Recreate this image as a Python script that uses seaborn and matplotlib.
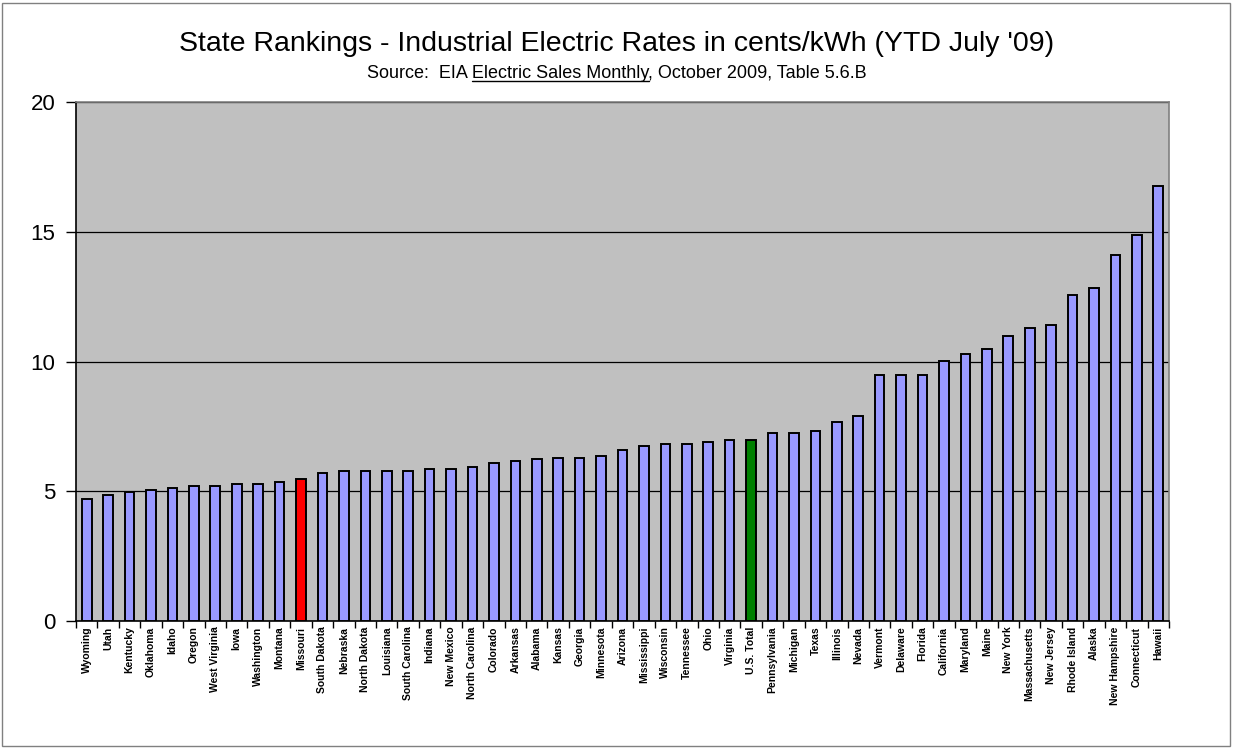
import matplotlib
matplotlib.use("Agg")
import matplotlib.pyplot as plt
from matplotlib.lines import Line2D
from matplotlib.patches import Rectangle
import pandas as pd
import seaborn as sns

sns.set_theme(style="white")
plt.rcParams['font.family'] = ['Liberation Sans', 'DejaVu Sans']
plt.rcParams['text.color'] = 'black'
plt.rcParams['xtick.color'] = 'black'
plt.rcParams['ytick.color'] = 'black'

# data (cents/kWh, YTD July 2009)
states = ['Wyoming', 'Utah', 'Kentucky', 'Oklahoma', 'Idaho', 'Oregon', 'West Virginia',
          'Iowa', 'Washington', 'Montana', 'Missouri', 'South Dakota', 'Nebraska',
          'North Dakota', 'Louisiana', 'South Carolina', 'Indiana', 'New Mexico',
          'North Carolina', 'Colorado', 'Arkansas', 'Alabama', 'Kansas', 'Georgia',
          'Minnesota', 'Arizona', 'Mississippi', 'Wisconsin', 'Tennessee', 'Ohio',
          'Virginia', 'U.S. Total', 'Pennsylvania', 'Michigan', 'Texas', 'Illinois',
          'Nevada', 'Vermont', 'Delaware', 'Florida', 'California', 'Maryland', 'Maine',
          'New York', 'Massachusetts', 'New Jersey', 'Rhode Island', 'Alaska',
          'New Hampshire', 'Connecticut', 'Hawaii']
rates = [4.72, 4.87, 4.97, 5.05, 5.13, 5.20, 5.20, 5.28, 5.28, 5.34, 5.46, 5.69, 5.79,
         5.79, 5.79, 5.79, 5.87, 5.87, 5.95, 6.09, 6.17, 6.23, 6.28, 6.28, 6.35, 6.58,
         6.76, 6.84, 6.84, 6.90, 6.98, 6.97, 7.25, 7.25, 7.31, 7.65, 7.89, 9.47, 9.47,
         9.47, 10.03, 10.28, 10.50, 10.97, 11.30, 11.42, 12.58, 12.85, 14.11, 14.86, 16.77]

highlight = {'Missouri': '#FF0000', 'U.S. Total': '#008000'}
bar_colors = [highlight.get(s, '#9999FF') for s in states]

df = pd.DataFrame({'State': states, 'Rate': rates})

fig = plt.figure(figsize=(12.33, 7.48), dpi=100)
ax = fig.add_axes([76/1233, 1-621/748, (1169-76)/1233, (621-102)/748])

sns.barplot(data=df, x='State', y='Rate', hue='State', palette=bar_colors,
            legend=False, width=0.45, edgecolor='black', linewidth=1.4,
            saturation=1, ax=ax, zorder=3)

ax.set_facecolor('#C0C0C0')
ax.set_ylim(0, 20)
ax.set_xlim(-0.5, len(states) - 0.5)
ax.set_yticks([0, 5, 10, 15, 20])
ax.yaxis.grid(True, color='black', linewidth=0.9)
ax.set_axisbelow(True)
ax.set_xlabel('')
ax.set_ylabel('')

ax.tick_params(axis='y', labelsize=16, length=7, width=1, direction='out',
               left=True, color='black', pad=8)
ax.tick_params(axis='x', which='major', length=0, labelsize=7.5, labelrotation=90, pad=4)
ax.set_xticks([i - 0.5 for i in range(len(states) + 1)], minor=True)
ax.tick_params(axis='x', which='minor', length=5, width=1, color='black',
               direction='out', bottom=True)
for lab in ax.get_xticklabels():
    lab.set_fontweight('bold')

for side in ['left', 'bottom']:
    ax.spines[side].set_color('black')
    ax.spines[side].set_linewidth(1.2)
for side in ['top', 'right']:
    ax.spines[side].set_color('#808080')
    ax.spines[side].set_linewidth(1.2)

# titles
fig.text(0.5, 1 - 44/748, "State Rankings - Industrial Electric Rates in cents/kWh (YTD July '09)",
         ha='center', va='center', fontsize=20.5)
sub = fig.text(0.5, 1 - 73/748, "Source:  EIA Electric Sales Monthly, October 2009, Table 5.6.B",
               ha='center', va='center', fontsize=13)

# underline "Electric Sales Monthly"
fig.canvas.draw()
r = fig.canvas.get_renderer()
full = sub.get_window_extent(r)
pre = fig.text(0, 0, "Source:  EIA ", fontsize=13)
mid = fig.text(0, 0, "Electric Sales Monthly", fontsize=13)
w_pre = pre.get_window_extent(r).width
w_mid = mid.get_window_extent(r).width
pre.remove()
mid.remove()
x0 = (full.x0 + w_pre) / fig.bbox.width
x1 = (full.x0 + w_pre + w_mid) / fig.bbox.width
yline = (full.y0 + 1) / fig.bbox.height
fig.add_artist(Line2D([x0, x1], [yline, yline], color='black', linewidth=1.0))

# outer chart border
fig.add_artist(Rectangle((2/1233, 2/748), 1 - 5/1233, 1 - 5/748, transform=fig.transFigure,
                         fill=False, edgecolor='#808080', linewidth=1.0))

fig.savefig('out.png', dpi=100)
